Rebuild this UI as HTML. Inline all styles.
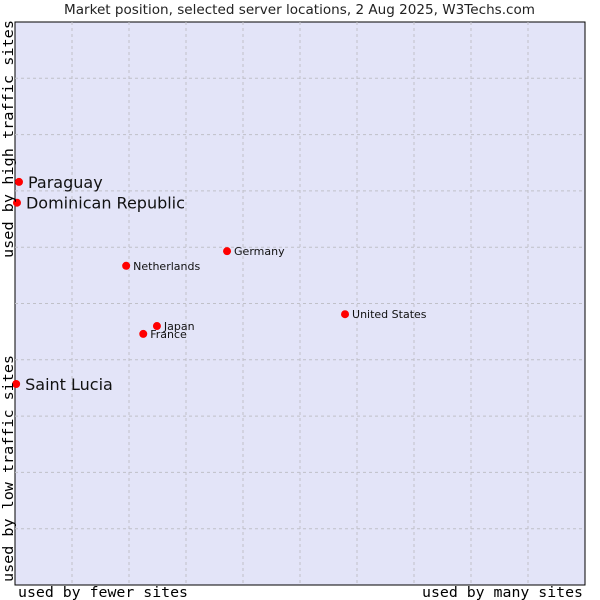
<!DOCTYPE html>
<html><head><meta charset="utf-8"><style>
body{margin:0;background:#fff;}
svg{display:block;font-family:"DejaVu Sans","Liberation Sans",sans-serif;}
</style></head><body>
<svg id="chart" width="600" height="600">
<text x="64" y="14" textLength="471" lengthAdjust="spacingAndGlyphs" font-size="13" fill="#222">Market position, selected server locations, 2 Aug 2025, W3Techs.com</text>
<rect x="15" y="22" width="570" height="563" fill="#e3e4f8" stroke="#000" stroke-width="1"/>
<g id="grid"></g>
<g id="points"></g>
<text x="18" y="597" textLength="170" lengthAdjust="spacingAndGlyphs" font-family="DejaVu Sans Mono,monospace" font-size="14" fill="#000">used by fewer sites</text>
<text x="422" y="597" textLength="161" lengthAdjust="spacingAndGlyphs" font-family="DejaVu Sans Mono,monospace" font-size="14" fill="#000">used by many sites</text>
<text transform="translate(13,258) rotate(-90)" textLength="238" lengthAdjust="spacingAndGlyphs" font-family="DejaVu Sans Mono,monospace" font-size="14" fill="#000">used by high traffic sites</text>
<text transform="translate(13,582) rotate(-90)" textLength="227" lengthAdjust="spacingAndGlyphs" font-family="DejaVu Sans Mono,monospace" font-size="14" fill="#000">used by low traffic sites</text>
</svg>
<script>
const names=["Paraguay","Dominican Republic","Saint Lucia","Germany","Netherlands","United States","Japan","France"];
const xVals=[0.7,0.35,0.2,37.2,19.5,57.9,24.9,22.5];
const yVals=[71.6,67.9,35.7,59.3,56.7,48.1,46.0,44.6];
const bigLabel=[true,true,true,false,false,false,false,false];
const NS="http://www.w3.org/2000/svg";
const L=15,T=22,W=570,H=563;
function sx(v){return L+v/100*W;}
function sy(v){return T+H-v/100*H;}
const grid=document.getElementById('grid');
for(let i=1;i<10;i++){
  const lx=document.createElementNS(NS,'line');
  lx.setAttribute('x1',sx(i*10));lx.setAttribute('x2',sx(i*10));lx.setAttribute('y1',T);lx.setAttribute('y2',T+H);
  lx.setAttribute('stroke','#c0c0c8');lx.setAttribute('stroke-dasharray','3,3');
  
  
  grid.appendChild(lx);
  const ly=document.createElementNS(NS,'line');
  ly.setAttribute('y1',sy(i*10));ly.setAttribute('y2',sy(i*10));ly.setAttribute('x1',L);ly.setAttribute('x2',L+W);
  ly.setAttribute('stroke','#c0c0c8');ly.setAttribute('stroke-dasharray','3,3');
  
  
  grid.appendChild(ly);
}
const pts=document.getElementById('points');
names.forEach((n,i)=>{
  const cx=sx(xVals[i]),cy=sy(yVals[i]);
  const c=document.createElementNS(NS,'circle');
  c.setAttribute('cx',cx);c.setAttribute('cy',cy);c.setAttribute('r',4);c.setAttribute('fill','#f00');
  
  
  pts.appendChild(c);
  const t=document.createElementNS(NS,'text');
  t.setAttribute('x',cx+(bigLabel[i]?9:7));
  t.setAttribute('y',cy+(bigLabel[i]?6:4));
  t.setAttribute('font-size',bigLabel[i]?16:11);
  t.setAttribute('fill','#111');
  t.textContent=n;
  
  
  pts.appendChild(t);
});
</script>
</body></html>
